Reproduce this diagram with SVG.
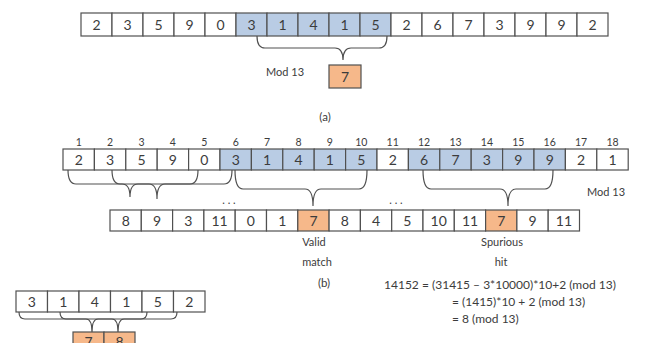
<svg xmlns="http://www.w3.org/2000/svg" width="651" height="343" viewBox="0 0 651 343">
<style>
.c{fill:#ffffff;stroke:#505050;stroke-width:1.2}
.b{fill:#b9cce4;stroke:#505050;stroke-width:1.2}
.o{fill:#f6b88a;stroke:#505050;stroke-width:1.2}
text{font-family:Lato,"Open Sans","Liberation Sans",sans-serif;fill:#3c3c3c}
.d{font-size:14px;text-anchor:middle}
.i{font-size:10.5px;text-anchor:middle}
.l{font-size:11px}
.e{font-size:11.5px}
.q{font-size:12px}
.br{fill:none;stroke:#505050;stroke-width:1.2}
</style>
<rect width="651" height="343" fill="#ffffff"/>
<!-- (a) top row -->
<g id="rowA">
<g id="a1"><rect class="c" x="81" y="13" width="31" height="23"/><text class="d" x="96.5" y="30">2</text></g>
<g id="a2"><rect class="c" x="112" y="13" width="31" height="23"/><text class="d" x="127.5" y="30">3</text></g>
<g id="a3"><rect class="c" x="143" y="13" width="31" height="23"/><text class="d" x="158.5" y="30">5</text></g>
<g id="a4"><rect class="c" x="174" y="13" width="31" height="23"/><text class="d" x="189.5" y="30">9</text></g>
<g id="a5"><rect class="c" x="205" y="13" width="31" height="23"/><text class="d" x="220.5" y="30">0</text></g>
<g id="a6"><rect class="b" x="236" y="13" width="31" height="23"/><text class="d" x="251.5" y="30">3</text></g>
<g id="a7"><rect class="b" x="267" y="13" width="31" height="23"/><text class="d" x="282.5" y="30">1</text></g>
<g id="a8"><rect class="b" x="298" y="13" width="31" height="23"/><text class="d" x="313.5" y="30">4</text></g>
<g id="a9"><rect class="b" x="329" y="13" width="31" height="23"/><text class="d" x="344.5" y="30">1</text></g>
<g id="a10"><rect class="b" x="360" y="13" width="31" height="23"/><text class="d" x="375.5" y="30">5</text></g>
<g id="a11"><rect class="c" x="391" y="13" width="31" height="23"/><text class="d" x="406.5" y="30">2</text></g>
<g id="a12"><rect class="c" x="422" y="13" width="31" height="23"/><text class="d" x="437.5" y="30">6</text></g>
<g id="a13"><rect class="c" x="453" y="13" width="31" height="23"/><text class="d" x="468.5" y="30">7</text></g>
<g id="a14"><rect class="c" x="484" y="13" width="31" height="23"/><text class="d" x="499.5" y="30">3</text></g>
<g id="a15"><rect class="c" x="515" y="13" width="31" height="23"/><text class="d" x="530.5" y="30">9</text></g>
<g id="a16"><rect class="c" x="546" y="13" width="31" height="23"/><text class="d" x="561.5" y="30">9</text></g>
<g id="a17"><rect class="c" x="577" y="13" width="31" height="23"/><text class="d" x="592.5" y="30">2</text></g>
</g>
<g id="aHash"><rect class="o" x="329" y="65" width="32" height="23"/><text class="d" x="345" y="82">7</text></g>
<text class="l" x="266" y="76">Mod 13</text>
<text class="e" x="325" y="121" text-anchor="middle">(a)</text>

<!-- (b) text row -->
<g id="idx">
<text class="i" x="78.7" y="146">1</text><text class="i" x="110.1" y="146">2</text><text class="i" x="141.5" y="146">3</text><text class="i" x="172.9" y="146">4</text><text class="i" x="204.3" y="146">5</text><text class="i" x="235.7" y="146">6</text><text class="i" x="267.1" y="146">7</text><text class="i" x="298.5" y="146">8</text><text class="i" x="329.9" y="146">9</text><text class="i" x="361.3" y="146">10</text><text class="i" x="392.7" y="146">11</text><text class="i" x="424.1" y="146">12</text><text class="i" x="455.5" y="146">13</text><text class="i" x="486.9" y="146">14</text><text class="i" x="518.3" y="146">15</text><text class="i" x="549.7" y="146">16</text><text class="i" x="581.1" y="146">17</text><text class="i" x="612.5" y="146">18</text>
</g>
<g id="rowB">
<g id="b1"><rect class="c" x="63" y="149" width="31.4" height="21"/><text class="d" x="78.7" y="165">2</text></g>
<g id="b2"><rect class="c" x="94.4" y="149" width="31.4" height="21"/><text class="d" x="110.1" y="165">3</text></g>
<g id="b3"><rect class="c" x="125.8" y="149" width="31.4" height="21"/><text class="d" x="141.5" y="165">5</text></g>
<g id="b4"><rect class="c" x="157.2" y="149" width="31.4" height="21"/><text class="d" x="172.9" y="165">9</text></g>
<g id="b5"><rect class="c" x="188.6" y="149" width="31.4" height="21"/><text class="d" x="204.3" y="165">0</text></g>
<g id="b6"><rect class="b" x="220" y="149" width="31.4" height="21"/><text class="d" x="235.7" y="165">3</text></g>
<g id="b7"><rect class="b" x="251.4" y="149" width="31.4" height="21"/><text class="d" x="267.1" y="165">1</text></g>
<g id="b8"><rect class="b" x="282.8" y="149" width="31.4" height="21"/><text class="d" x="298.5" y="165">4</text></g>
<g id="b9"><rect class="b" x="314.2" y="149" width="31.4" height="21"/><text class="d" x="329.9" y="165">1</text></g>
<g id="b10"><rect class="b" x="345.6" y="149" width="31.4" height="21"/><text class="d" x="361.3" y="165">5</text></g>
<g id="b11"><rect class="c" x="377" y="149" width="31.4" height="21"/><text class="d" x="392.7" y="165">2</text></g>
<g id="b12"><rect class="b" x="408.4" y="149" width="31.4" height="21"/><text class="d" x="424.1" y="165">6</text></g>
<g id="b13"><rect class="b" x="439.8" y="149" width="31.4" height="21"/><text class="d" x="455.5" y="165">7</text></g>
<g id="b14"><rect class="b" x="471.2" y="149" width="31.4" height="21"/><text class="d" x="486.9" y="165">3</text></g>
<g id="b15"><rect class="b" x="502.6" y="149" width="31.4" height="21"/><text class="d" x="518.3" y="165">9</text></g>
<g id="b16"><rect class="b" x="534" y="149" width="31.4" height="21"/><text class="d" x="549.7" y="165">9</text></g>
<g id="b17"><rect class="c" x="565.4" y="149" width="31.4" height="21"/><text class="d" x="581.1" y="165">2</text></g>
<g id="b18"><rect class="c" x="596.8" y="149" width="31.4" height="21"/><text class="d" x="612.5" y="165">1</text></g>
</g>
<text class="l" x="587" y="196">Mod 13</text>
<text class="l" x="229" y="204" text-anchor="middle">. . .</text>
<text class="l" x="396" y="204" text-anchor="middle">. . .</text>

<!-- (b) hash row -->
<g id="rowH">
<g id="h1"><rect class="c" x="110" y="210" width="31.3" height="21"/><text class="d" x="125.7" y="226">8</text></g>
<g id="h2"><rect class="c" x="141.3" y="210" width="31.3" height="21"/><text class="d" x="157" y="226">9</text></g>
<g id="h3"><rect class="c" x="172.6" y="210" width="31.3" height="21"/><text class="d" x="188.3" y="226">3</text></g>
<g id="h4"><rect class="c" x="203.9" y="210" width="31.3" height="21"/><text class="d" x="219.6" y="226">11</text></g>
<g id="h5"><rect class="c" x="235.2" y="210" width="31.3" height="21"/><text class="d" x="250.9" y="226">0</text></g>
<g id="h6"><rect class="c" x="266.5" y="210" width="31.3" height="21"/><text class="d" x="282.2" y="226">1</text></g>
<g id="h7"><rect class="o" x="297.8" y="210" width="31.3" height="21"/><text class="d" x="313.5" y="226">7</text></g>
<g id="h8"><rect class="c" x="329.1" y="210" width="31.3" height="21"/><text class="d" x="344.8" y="226">8</text></g>
<g id="h9"><rect class="c" x="360.4" y="210" width="31.3" height="21"/><text class="d" x="376.1" y="226">4</text></g>
<g id="h10"><rect class="c" x="391.7" y="210" width="31.3" height="21"/><text class="d" x="407.4" y="226">5</text></g>
<g id="h11"><rect class="c" x="423" y="210" width="31.3" height="21"/><text class="d" x="438.7" y="226">10</text></g>
<g id="h12"><rect class="c" x="454.3" y="210" width="31.3" height="21"/><text class="d" x="470" y="226">11</text></g>
<g id="h13"><rect class="o" x="485.6" y="210" width="31.3" height="21"/><text class="d" x="501.3" y="226">7</text></g>
<g id="h14"><rect class="c" x="516.9" y="210" width="31.3" height="21"/><text class="d" x="532.6" y="226">9</text></g>
<g id="h15"><rect class="c" x="548.2" y="210" width="31.3" height="21"/><text class="d" x="563.9" y="226">11</text></g>
</g>
<text class="l" x="314" y="246" text-anchor="middle">Valid</text>
<text class="l" x="317" y="266" text-anchor="middle">match</text>
<text class="l" x="502" y="246" text-anchor="middle">Spurious</text>
<text class="l" x="501" y="266" text-anchor="middle">hit</text>
<text class="e" x="324" y="287" text-anchor="middle">(b)</text>

<!-- equation -->
<text class="q" x="384" y="289">14152</text>
<text class="q" x="422" y="289">= (31415 – 3*10000)*10+2 (mod 13)</text>
<text class="q" x="452" y="306">= (1415)*10 + 2  (mod 13)</text>
<text class="q" x="452" y="323">= 8 (mod 13)</text>

<!-- (c) bottom-left -->
<g id="rowC">
<g id="c1"><rect class="c" x="16" y="291" width="31.5" height="21"/><text class="d" x="31.8" y="307">3</text></g>
<g id="c2"><rect class="c" x="47.5" y="291" width="31.5" height="21"/><text class="d" x="63.3" y="307">1</text></g>
<g id="c3"><rect class="c" x="79" y="291" width="31.5" height="21"/><text class="d" x="94.8" y="307">4</text></g>
<g id="c4"><rect class="c" x="110.5" y="291" width="31.5" height="21"/><text class="d" x="126.3" y="307">1</text></g>
<g id="c5"><rect class="c" x="142" y="291" width="31.5" height="21"/><text class="d" x="157.8" y="307">5</text></g>
<g id="c6"><rect class="c" x="173.5" y="291" width="31.5" height="21"/><text class="d" x="189.3" y="307">2</text></g>
</g>
<g id="cH1"><rect class="o" x="73" y="332" width="31" height="22"/><text class="d" x="88.5" y="347">7</text></g>
<g id="cH2"><rect class="o" x="104" y="332" width="31" height="22"/><text class="d" x="119.5" y="347">8</text></g>

<!-- connectors (braces) -->
<g id="connectors">
<path class="br" d="M257 36 Q257 48 265 48 L335 48 Q343 48 343 60 Q343 48 351 48 L379 48 Q387 48 387 36"/>
<path class="br" d="M68 170 Q68 184 76 184 L122 184 Q130 184 130 197 Q130 184 138 184 L190 184 Q198 184 198 170"/>
<path class="br" d="M112 170 Q112 184 120 184 L149 184 Q157 184 157 199 Q157 184 165 184 L224 184 Q232 184 232 170"/>
<path class="br" d="M235 170 Q235 189 243 189 L305 189 Q313 189 313 206 Q313 189 321 189 L359 189 Q367 189 367 170"/>
<path class="br" d="M423 170 Q423 189 431 189 L500 189 Q508 189 508 206 Q508 189 516 189 L545 189 Q553 189 553 170"/>
<path class="br" d="M19 312 Q19 319 25 319 L86 319 Q92 319 92 332 Q92 319 98 319 L141 319 Q147 319 147 312"/>
<path class="br" d="M60 312 Q60 319 66 319 L112 319 Q118 319 118 332 Q118 319 124 319 L171 319 Q177 319 177 312"/>
</g>
</svg>
